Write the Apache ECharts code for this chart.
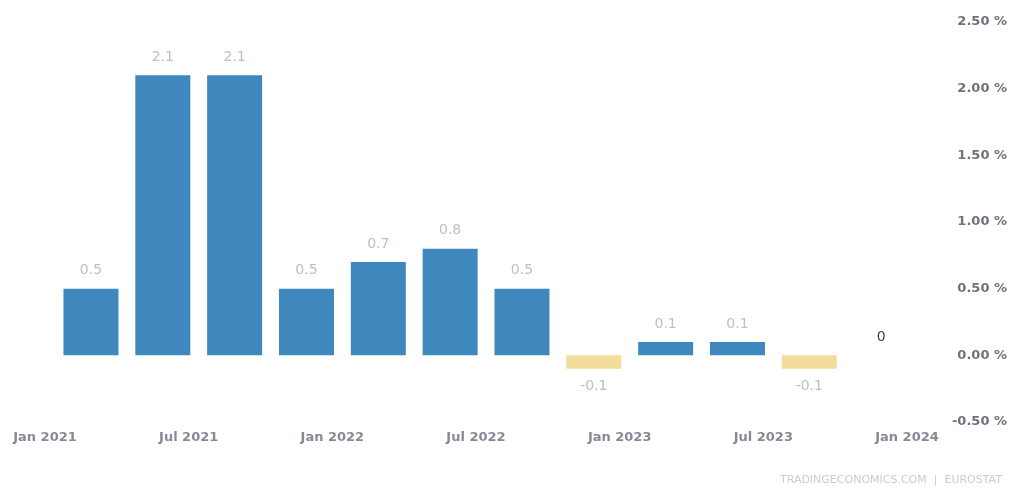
<!DOCTYPE html>
<html>
<head>
<meta charset="utf-8">
<script src="https://cdn.jsdelivr.net/npm/echarts@6/dist/echarts.min.js"></script>
<style>
html,body{margin:0;padding:0;background:#fff;}
#c{width:1017px;height:488px;}
</style>
</head>
<body>
<div id="c"></div>
<script>
const quarters = ['2021Q1','2021Q2','2021Q3','2021Q4','2022Q1','2022Q2','2022Q3','2022Q4','2023Q1','2023Q2','2023Q3','2023Q4'];
const values = [0.5, 2.1, 2.1, 0.5, 0.7, 0.8, 0.5, -0.1, 0.1, 0.1, -0.1, 0];
const tickLabels = ['Jan 2021','Jul 2021','Jan 2022','Jul 2022','Jan 2023','Jul 2023','Jan 2024'];
const yTicks = [-0.5, 0, 0.5, 1, 1.5, 2, 2.5];

const chart = echarts.init(document.getElementById('c'), null, {renderer:'canvas'});
const data = values.map(function(v, i){
  const item = {
    value: [i + 0.64, v],
    itemStyle: {color: v < 0 ? '#f3dd9b' : '#3f88bd'},
    label: {position: v < 0 ? 'bottom' : 'top'}
  };
  if (i === values.length - 1) item.label.color = '#444';
  return item;
});
chart.setOption({
  animation: false,
  grid: {left: 45, right: 110, top: 22, bottom: 66},
  xAxis: {
    type: 'value', min: 0, max: 12, interval: 2,
    axisLine: {show: false}, axisTick: {show: false}, splitLine: {show: false},
    axisLabel: {
      margin: 9, color: '#868a96', fontFamily: 'DejaVu Sans', fontWeight: 'bold', fontSize: 13,
      formatter: function(v){ return tickLabels[Math.round(v/2)] || ''; }
    }
  },
  yAxis: {
    type: 'value', position: 'right', min: yTicks[0], max: yTicks[yTicks.length-1], interval: 0.5,
    axisLine: {show: false}, axisTick: {show: false}, splitLine: {show: false},
    axisLabel: {
      align: 'right', margin: 100, color: '#6e727c', fontFamily: 'DejaVu Sans', fontWeight: 'bold', fontSize: 13,
      formatter: function(v){ return v.toFixed(2) + ' %'; }
    }
  },
  series: [{
    type: 'bar', barWidth: 55, data: data,
    label: {show: true, distance: 11, color: '#b9c0cb', fontFamily: 'DejaVu Sans', fontSize: 14,
      formatter: function(p){ return String(p.value[1]); }}
  }],
  graphic: [{
    type: 'text', right: 15, top: 475,
    style: {text: 'TRADINGECONOMICS.COM  |  EUROSTAT', fill: '#c8ccd4', font: '11px "DejaVu Sans"'}
  }]
});
</script>
</body>
</html>
